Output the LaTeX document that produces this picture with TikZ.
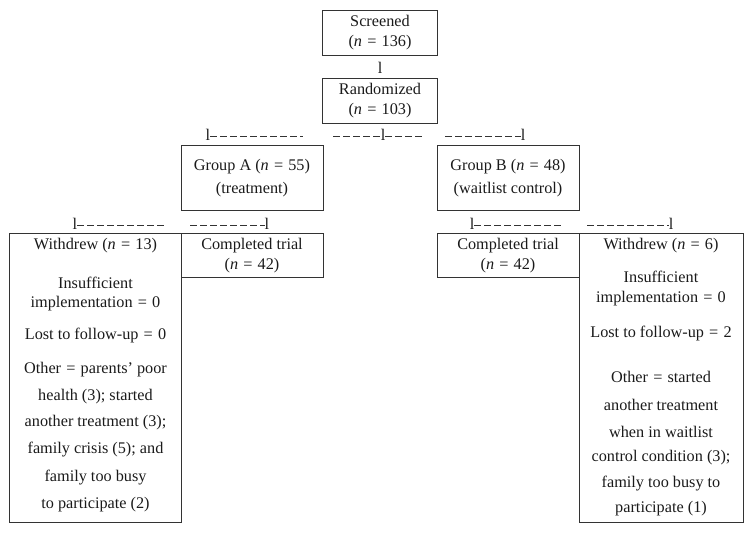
\documentclass[tikz,border=0pt]{standalone}
\usepackage{fontspec}
\setmainfont{Liberation Serif}
\newcommand\mainfs{\fontsize{16.3}{20}\selectfont}
\newcommand\eqs{\hspace{0.32em}=\hspace{0.32em}}
\definecolor{linec}{HTML}{333333}
\definecolor{txtc}{HTML}{1A1A1A}
\begin{document}
\begin{tikzpicture}[x=1bp,y=-1bp,
  box/.style={draw=linec, line width=1bp, inner sep=0pt, align=center, text=txtc, font=\mainfs},
  txt/.style={inner sep=0pt, text=txtc, font=\mainfs},
  glyph/.style={inner sep=0pt, text=txtc, font=\mainfs},
  dashln/.style={draw=linec, line width=0.8bp, dash pattern=on 7bp off 3bp}]
\useasboundingbox (0,0) rectangle (753,533);

% boxes
\node[box, minimum width=115bp, minimum height=45bp] (scr) at (380,33) {Screened\\(\textit{n}\eqs 136)};
\node[box, minimum width=115bp, minimum height=45bp] (rnd) at (380,101) {Randomized\\(\textit{n}\eqs 103)};
\node[box, minimum width=142bp, minimum height=65bp] (grA) at (252,178.5) {Group A (\textit{n}\eqs 55)\\[3bp](treatment)};
\node[box, minimum width=142bp, minimum height=65bp] (grB) at (508,178.5) {Group B (\textit{n}\eqs 48)\\[3bp](waitlist control)};
\node[box, minimum width=142bp, minimum height=43bp] (cpA) at (252,255.5) {Completed trial\\(\textit{n}\eqs 42)};
\node[box, minimum width=142bp, minimum height=43bp] (cpB) at (508,255.5) {Completed trial\\(\textit{n}\eqs 42)};
\node[box, minimum width=171bp, minimum height=288bp] (wdA) at (95.5,378) {};
\node[box, minimum width=164bp, minimum height=288bp] (wdB) at (661,378) {};

% withdrew A text
\node[txt] (wa1) at (95.5,246) {Withdrew (\textit{n}\eqs 13)};
\node[txt] (wa2) at (95.5,283) {Insufficient};
\node[txt] (wa3) at (95.5,304) {implementation\eqs 0};
\node[txt] (wa4) at (95.5,336) {Lost to follow-up\eqs 0};
\node[txt] (wa5) at (95.5,370) {Other\eqs parents’ poor};
\node[txt] (wa6) at (95.5,397) {health (3); started};
\node[txt] (wa7) at (95.5,423) {another treatment (3);};
\node[txt] (wa8) at (95.5,450) {family crisis (5); and};
\node[txt] (wa9) at (95.5,478) {family too busy};
\node[txt] (wa10) at (95.5,505) {to participate (2)};

% withdrew B text
\node[txt] (wb1) at (661,246) {Withdrew (\textit{n}\eqs 6)};
\node[txt] (wb2) at (661,277) {Insufficient};
\node[txt] (wb3) at (661,299) {implementation\eqs 0};
\node[txt] (wb4) at (661,334) {Lost to follow-up\eqs 2};
\node[txt] (wb5) at (661,377) {Other\eqs started};
\node[txt] (wb6) at (661,405) {another treatment};
\node[txt] (wb7) at (661,432) {when in waitlist};
\node[txt] (wb8) at (661,458) {control condition (3);};
\node[txt] (wb9) at (661,484) {family too busy to};
\node[txt] (wb10) at (661,509) {participate (1)};

% connector glyphs
\node[glyph] (g0) at (380,68) {l};
\node[glyph] (g1a) at (208,135) {l};
\node[glyph] (g1b) at (383,135) {l};
\node[glyph] (g1c) at (523,135) {l};
\node[glyph] (g2a) at (75,224) {l};
\node[glyph] (g2b) at (267,224) {l};
\node[glyph] (g2c) at (472,224) {l};
\node[glyph] (g2d) at (671,224) {l};

\coordinate (d1a) at (303,136);
\coordinate (d1b) at (333,136);
\coordinate (d1c) at (422,136);
\coordinate (d1d) at (445,136);
\coordinate (d2a) at (165,225);
\coordinate (d2b) at (190,225);
\coordinate (d2c) at (562,225);
\coordinate (d2d) at (587,225);

\draw[dashln] (g1a.east |- d1a) -- (d1a);
\draw[dashln] (d1b) -- (g1b.west |- d1b);
\draw[dashln] (g1b.east |- d1c) -- (d1c);
\draw[dashln] (d1d) -- (g1c.west |- d1d);
\draw[dashln] (g2a.east |- d2a) -- (d2a);
\draw[dashln] (d2b) -- (g2b.west |- d2b);
\draw[dashln] (g2c.east |- d2c) -- (d2c);
\draw[dashln] (d2d) -- (g2d.west |- d2d);
\end{tikzpicture}
\end{document}
